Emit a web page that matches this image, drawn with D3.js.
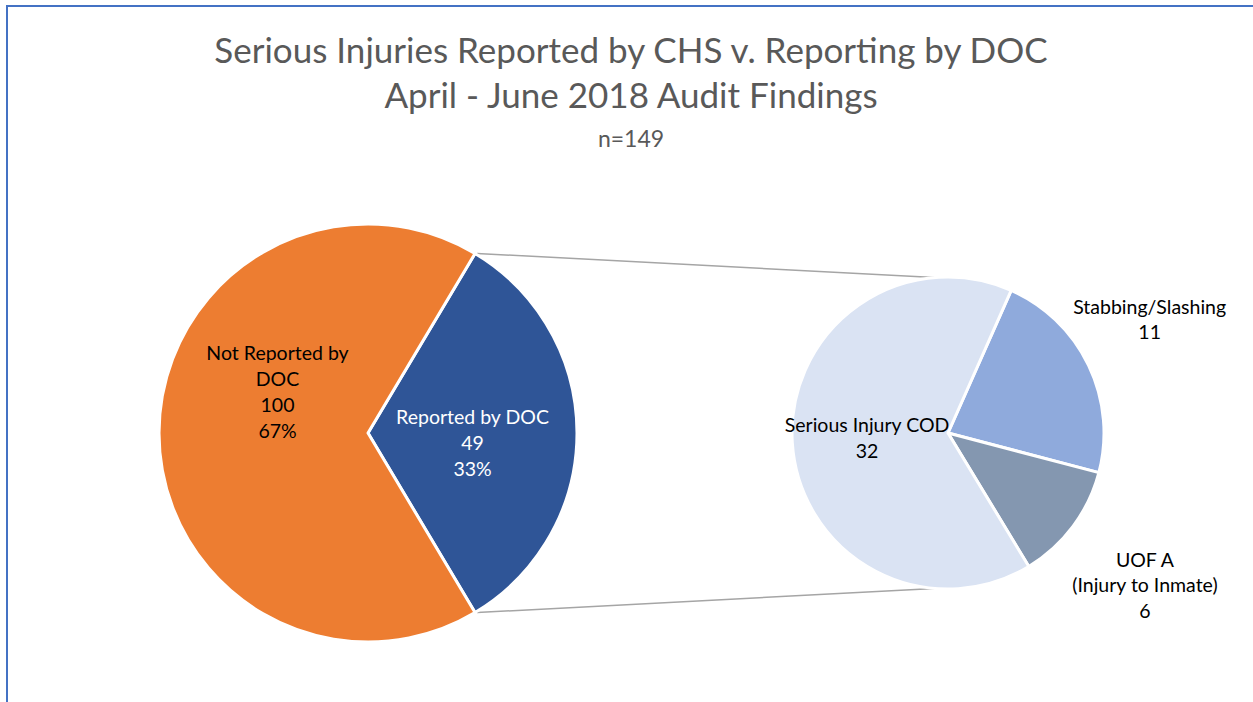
<!DOCTYPE html>
<html>
<head>
<meta charset="utf-8">
<script src="https://cdn.jsdelivr.net/npm/d3@7"></script>
<style>
  body { margin: 0; background: #fff; }
  svg { display: block; font-family: Lato, "Open Sans", sans-serif; }
</style>
</head>
<body>
<svg id="chart"></svg>
<script>
// main pie
const mainLabels = ["Reported by DOC", "Not Reported by DOC"];
const mainValues = [49, 100];
const mainColors = ["#2F5597", "#ED7D31"];

// breakdown of the "Reported by DOC" slice
const subLabels = [["Stabbing/Slashing"], ["UOF A", "(Injury to Inmate)"], ["Serious Injury COD"]];
const subValues = [11, 6, 32];
const subColors = ["#8FAADC", "#8497B0", "#DAE3F3"];

const titleLines = ["Serious Injuries Reported by CHS v. Reporting by DOC", "April - June 2018 Audit Findings"];
const subtitle = "n=149";

const width = 1253, height = 702;
const svg = d3.select("#chart").attr("width", width).attr("height", height);

// chart frame
svg.append("rect")
    .attr("x", 7).attr("y", 6)
    .attr("width", width + 20).attr("height", height + 20)
    .attr("fill", "none")
    .attr("stroke", "#4472C4")
    .attr("stroke-width", 2);

// titles
svg.selectAll("text.title")
    .data(titleLines)
    .enter().append("text")
    .attr("class", "title")
    .attr("x", 631)
    .attr("y", (d, i) => 63 + i * 45)
    .attr("text-anchor", "middle")
    .attr("fill", "#595959")
    .style("font-size", "35px")
    .text(d => d);

svg.append("text")
    .attr("x", 631).attr("y", 147)
    .attr("text-anchor", "middle")
    .attr("fill", "#595959")
    .style("font-size", "23px")
    .text(subtitle);

const total = d3.sum(mainValues);
const degToRad = Math.PI / 180;

// left pie: blue slice centred on 3 o'clock
const mainR = 209;
const mainCx = 368, mainCy = 433;
const blueSpan = mainValues[0] / total * 2 * Math.PI;
const mainPie = d3.pie().sort(null)
    .startAngle(Math.PI / 2 - blueSpan / 2)
    .endAngle(Math.PI / 2 - blueSpan / 2 + 2 * Math.PI);
const mainArcs = mainPie(mainValues);
const mainArc = d3.arc().innerRadius(0).outerRadius(mainR);

// right pie
const subR = 156;
const subCx = 948, subCy = 433;
const subStart = 23.9 * degToRad;
const subPie = d3.pie().sort(null)
    .startAngle(subStart)
    .endAngle(subStart + 2 * Math.PI);
const subArcs = subPie(subValues);
const subArc = d3.arc().innerRadius(0).outerRadius(subR);

// connector lines between the blue slice and the second pie
const topA = mainArcs[0].startAngle, botA = mainArcs[0].endAngle;
const tipA = -5 * degToRad;
const connectors = [
    [[mainCx + mainR * Math.sin(topA) + 2, mainCy - mainR * Math.cos(topA)],
     [subCx + subR * Math.sin(tipA), subCy - subR * Math.cos(tipA)]],
    [[mainCx + mainR * Math.sin(botA) + 2, mainCy - mainR * Math.cos(botA)],
     [subCx + subR * Math.sin(Math.PI - tipA), subCy - subR * Math.cos(Math.PI - tipA)]]
];
svg.append("g").selectAll("line")
    .data(connectors)
    .enter().append("line")
    .attr("x1", d => d[0][0]).attr("y1", d => d[0][1])
    .attr("x2", d => d[1][0]).attr("y2", d => d[1][1])
    .attr("stroke", "#A5A5A5")
    .attr("stroke-width", 1.5);

const mainG = svg.append("g").attr("transform", `translate(${mainCx},${mainCy})`);
mainG.selectAll("path")
    .data(mainArcs)
    .enter().append("path")
    .attr("d", mainArc)
    .attr("fill", (d, i) => mainColors[i])
    .attr("stroke", "#fff")
    .attr("stroke-width", 3)
    .attr("stroke-linejoin", "round");

const subG = svg.append("g").attr("transform", `translate(${subCx},${subCy})`);
subG.selectAll("path")
    .data(subArcs)
    .enter().append("path")
    .attr("d", subArc)
    .attr("fill", (d, i) => subColors[i])
    .attr("stroke", "#fff")
    .attr("stroke-width", 3)
    .attr("stroke-linejoin", "round");

// labels
const lineH = 25.7;
const labelSize = "19.5px";

function drawLabel(g, lines, cx, cy, color) {
    let t = g.append("text")
        .attr("text-anchor", "middle")
        .attr("fill", color)
        .style("font-size", labelSize);
    let y0 = cy - (lines.length - 1) * lineH / 2 + 6;
    lines.forEach((l, i) => {
        t.append("tspan").attr("x", cx).attr("y", y0 + i * lineH).text(l);
    });
}

// main pie labels (inside, Excel best-fit placement)
const mainLabelArc = d3.arc().innerRadius(mainR * 0.5).outerRadius(mainR * 0.5);
const mainNudge = [[0, 11], [14, -40]];
const mainLabelLines = [
    [mainLabels[0], String(mainValues[0]), d3.format(".0%")(mainValues[0] / total)],
    ["Not Reported by", "DOC", String(mainValues[1]), d3.format(".0%")(mainValues[1] / total)]
];
mainArcs.forEach((a, i) => {
    let c = mainLabelArc.centroid(a);
    drawLabel(mainG, mainLabelLines[i], c[0] + mainNudge[i][0], c[1] + mainNudge[i][1],
        i === 0 ? "#FFFFFF" : "#000000");
});

// second pie labels: the small slices outside, the big one inside
const subLabelRadius = [1.47, 1.6, 0.52];
const subNudge = [[-5, -13], [-3, 4], [0, 1]];
subArcs.forEach((a, i) => {
    let r = subR * subLabelRadius[i];
    let c = d3.arc().innerRadius(r).outerRadius(r).centroid(a);
    drawLabel(subG, subLabels[i].concat([String(subValues[i])]),
        c[0] + subNudge[i][0], c[1] + subNudge[i][1], "#000000");
});
</script>
</body>
</html>
